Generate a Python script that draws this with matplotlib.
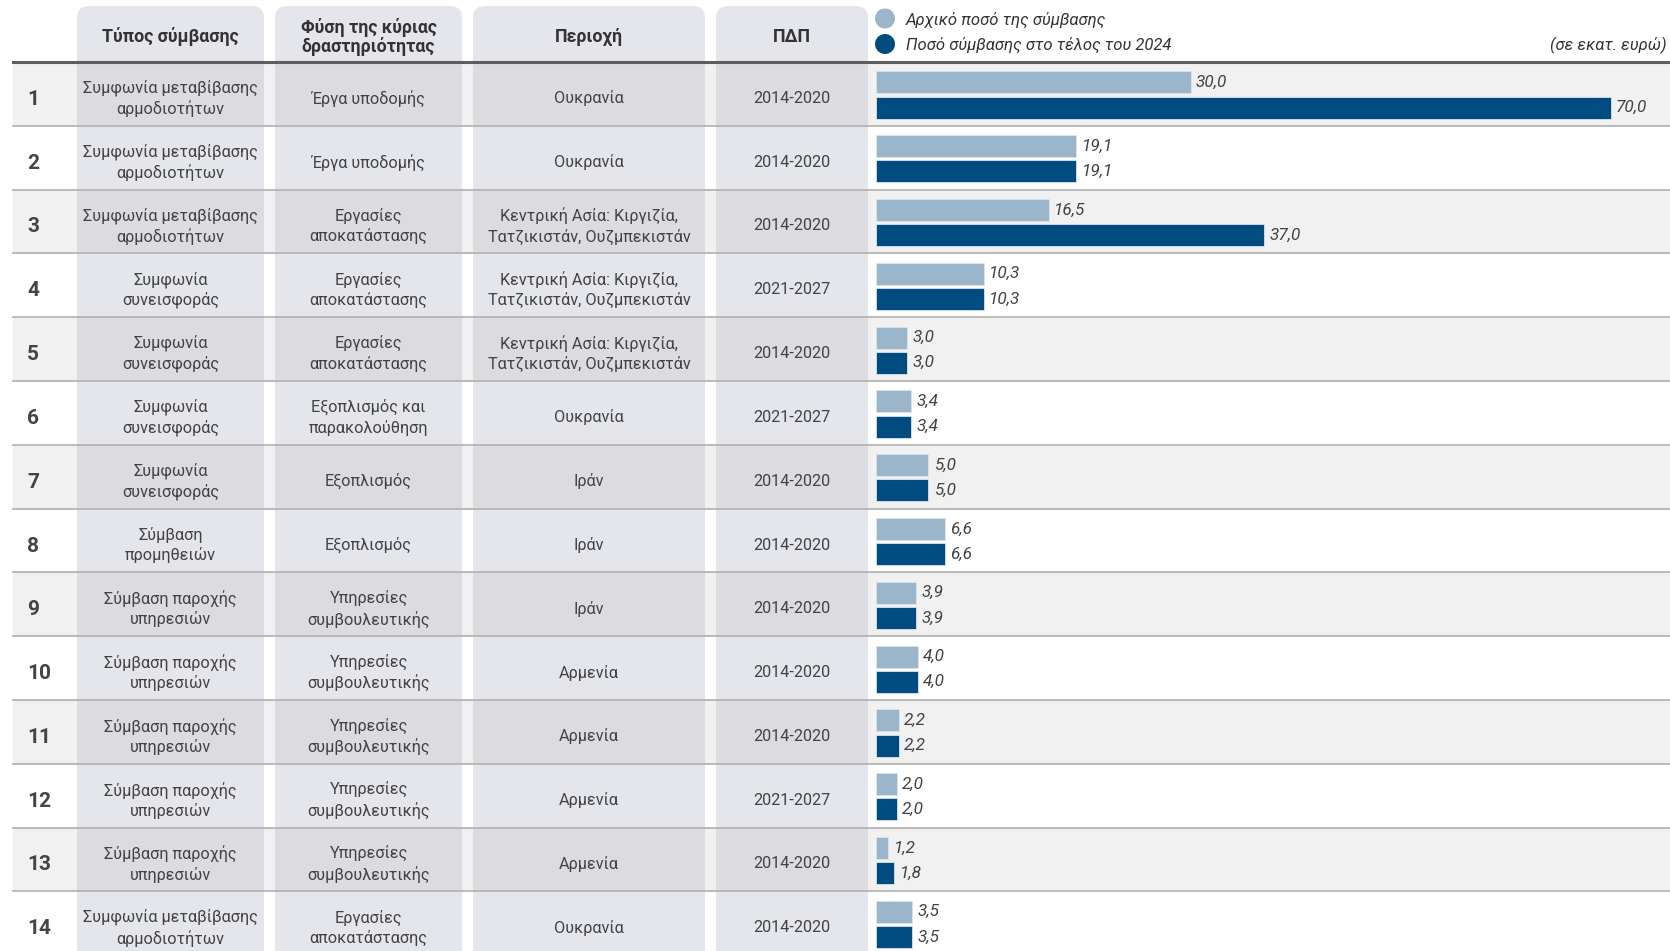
import matplotlib
matplotlib.use("Agg")
import matplotlib.pyplot as plt
from matplotlib.patches import Rectangle, FancyBboxPatch, Circle

plt.rcParams['font.family'] = ['Roboto', 'DejaVu Sans']

# ---------------- data ----------------
row_ids = [str(i) for i in range(1, 15)]
contract_type = [
    "Συμφωνία μεταβίβασης\nαρμοδιοτήτων",
    "Συμφωνία μεταβίβασης\nαρμοδιοτήτων",
    "Συμφωνία μεταβίβασης\nαρμοδιοτήτων",
    "Συμφωνία\nσυνεισφοράς",
    "Συμφωνία\nσυνεισφοράς",
    "Συμφωνία\nσυνεισφοράς",
    "Συμφωνία\nσυνεισφοράς",
    "Σύμβαση\nπρομηθειών",
    "Σύμβαση παροχής\nυπηρεσιών",
    "Σύμβαση παροχής\nυπηρεσιών",
    "Σύμβαση παροχής\nυπηρεσιών",
    "Σύμβαση παροχής\nυπηρεσιών",
    "Σύμβαση παροχής\nυπηρεσιών",
    "Συμφωνία μεταβίβασης\nαρμοδιοτήτων",
]
activity = [
    "Έργα υποδομής",
    "Έργα υποδομής",
    "Εργασίες\nαποκατάστασης",
    "Εργασίες\nαποκατάστασης",
    "Εργασίες\nαποκατάστασης",
    "Εξοπλισμός και\nπαρακολούθηση",
    "Εξοπλισμός",
    "Εξοπλισμός",
    "Υπηρεσίες\nσυμβουλευτικής",
    "Υπηρεσίες\nσυμβουλευτικής",
    "Υπηρεσίες\nσυμβουλευτικής",
    "Υπηρεσίες\nσυμβουλευτικής",
    "Υπηρεσίες\nσυμβουλευτικής",
    "Εργασίες\nαποκατάστασης",
]
region = [
    "Ουκρανία",
    "Ουκρανία",
    "Κεντρική Ασία: Κιργιζία,\nΤατζικιστάν, Ουζμπεκιστάν",
    "Κεντρική Ασία: Κιργιζία,\nΤατζικιστάν, Ουζμπεκιστάν",
    "Κεντρική Ασία: Κιργιζία,\nΤατζικιστάν, Ουζμπεκιστάν",
    "Ουκρανία",
    "Ιράν",
    "Ιράν",
    "Ιράν",
    "Αρμενία",
    "Αρμενία",
    "Αρμενία",
    "Αρμενία",
    "Ουκρανία",
]
mff = ["2014-2020", "2014-2020", "2014-2020", "2021-2027", "2014-2020",
       "2021-2027", "2014-2020", "2014-2020", "2014-2020", "2014-2020",
       "2014-2020", "2021-2027", "2014-2020", "2014-2020"]
initial_amount = [30.0, 19.1, 16.5, 10.3, 3.0, 3.4, 5.0, 6.6, 3.9, 4.0, 2.2, 2.0, 1.2, 3.5]
final_amount = [70.0, 19.1, 37.0, 10.3, 3.0, 3.4, 5.0, 6.6, 3.9, 4.0, 2.2, 2.0, 1.8, 3.5]

headers = ["Τύπος σύμβασης", "Φύση της κύριας\nδραστηριότητας", "Περιοχή", "ΠΔΠ"]
legend_labels = ["Αρχικό ποσό της σύμβασης", "Ποσό σύμβασης στο τέλος του 2024"]
unit_label = "(σε εκατ. ευρώ)"

# ---------------- layout / style ----------------
W, H = 1670, 951
C_LIGHT = "#9bb5ca"
C_DARK = "#004b80"
TXT = "#424242"
COLBOX = "#e5e6eb"

fig = plt.figure(figsize=(W / 100, H / 100), dpi=100)
bg = fig.add_axes([0, 0, 1, 1])
bg.set_xlim(0, W)
bg.set_ylim(H, 0)
bg.axis("off")

top = 62.0
rh = 63.8
n = len(row_ids)
left_edge = 13
cols = [(77, 264), (275, 462), (473, 705), (716, 868)]

# column boxes with rounded tops
for (x0, x1) in cols:
    bg.add_patch(FancyBboxPatch((x0, 6), x1 - x0, H + 40, boxstyle="round,pad=0,rounding_size=12",
                                fc=COLBOX, ec="none", zorder=1))

# odd-row shading
for i in range(n):
    y0 = top + i * rh
    if i % 2 == 0:
        bg.add_patch(Rectangle((left_edge, y0), W - left_edge, rh, fc="#9a9a9a", alpha=0.135,
                               ec="none", zorder=2))
    if i > 0:
        bg.plot([left_edge, W], [y0, y0], color="#b5b5b5", lw=1.3, zorder=3)

bg.plot([left_edge, W], [top, top], color="#5e5e5e", lw=2.2, zorder=4)

# header texts
for (x0, x1), h in zip(cols, headers):
    bg.text((x0 + x1) / 2, 37, h, ha="center", va="center", fontsize=12.8, fontweight="bold",
            color="#333333", linespacing=1.05, zorder=5)

# table cells
for i in range(n):
    yc = top + (i + 0.5) * rh + 4.5
    bg.text(27, yc + 1, row_ids[i], ha="left", va="center", fontsize=15, fontweight="bold",
            color="#444444", zorder=5)
    for (x0, x1), txt in zip(cols, [contract_type[i], activity[i], region[i], mff[i]]):
        bg.text((x0 + x1) / 2, yc, txt, ha="center", va="center", fontsize=11.7,
                color=TXT, linespacing=1.33, zorder=5)

# legend
for k, (lab, c) in enumerate(zip(legend_labels, [C_LIGHT, C_DARK])):
    yy = 18.5 + k * 25.5
    bg.add_patch(Circle((885, yy), 10, fc=c, ec="none", zorder=5))
    bg.text(906, yy + 1, lab, ha="left", va="center", fontsize=12, style="italic",
            color="#333333", zorder=5)
bg.text(W - 3, 45, unit_label, ha="right", va="center", fontsize=12, style="italic",
        color="#333333", zorder=5)

# ---------------- bar axes ----------------
zero_px = 875.5
px_per_unit = 10.5
bottom_px = top + n * rh
ax = fig.add_axes([zero_px / W, 1 - bottom_px / H, (W - zero_px) / W, (bottom_px - top) / H])
ax.set_xlim(0, (W - zero_px) / px_per_unit)
ax.set_ylim(n, 0)
ax.axis("off")
ax.patch.set_alpha(0)

yc = [i + 0.5 for i in range(n)]
y_init = [y - 0.18 for y in yc]
y_fin = [y + 0.215 for y in yc]
bh = 0.345
ax.barh(y_init, initial_amount, height=bh, color=C_LIGHT, edgecolor="#dbe4ec", linewidth=0.6, zorder=3)
ax.barh(y_fin, final_amount, height=bh, color=C_DARK, edgecolor="#dbe4ec", linewidth=0.6, zorder=3)

def fmt(v):
    return f"{v:.1f}".replace(".", ",")

for y, v in zip(y_init, initial_amount):
    ax.annotate(fmt(v), xy=(v, y), xytext=(4, 0), textcoords="offset points", ha="left",
                va="center", fontsize=12.3, style="italic", color=TXT)
for y, v in zip(y_fin, final_amount):
    ax.annotate(fmt(v), xy=(v, y), xytext=(4, 0), textcoords="offset points", ha="left",
                va="center", fontsize=12.3, style="italic", color=TXT)

fig.savefig("out.png", dpi=100)
